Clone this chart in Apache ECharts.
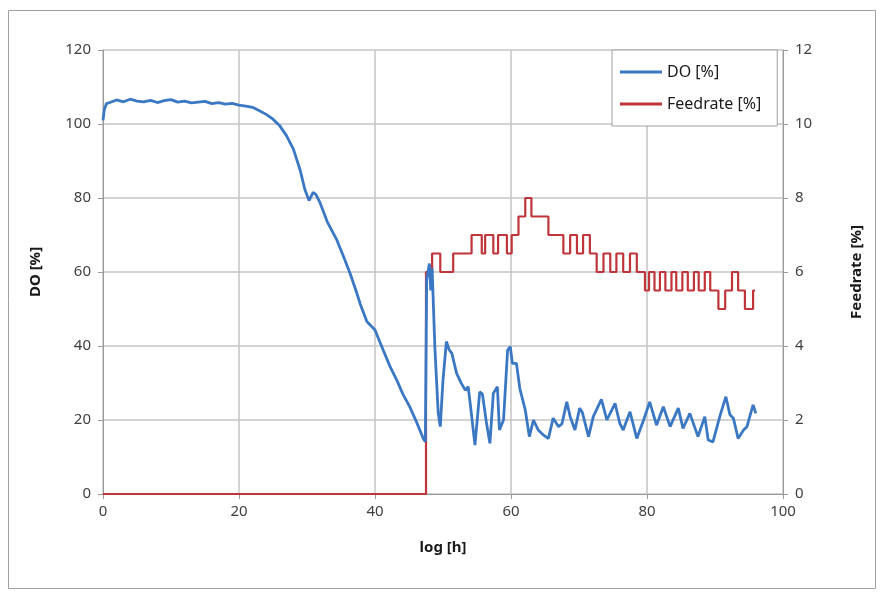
<!DOCTYPE html>
<html>
<head>
<meta charset="utf-8">
<script src="https://cdn.jsdelivr.net/npm/echarts@6/dist/echarts.min.js"></script>
<style>
  html, body { margin: 0; padding: 0; background: #fff; }
  #chart { width: 882px; height: 595px; }
</style>
</head>
<body>
<div id="chart"></div>
<script>
// DO [%] (time in h)
var doTime = [0.0, 0.2, 0.5, 1, 2, 3, 4, 5, 6, 7, 8, 9, 10, 11, 12, 13, 14, 15, 16, 17, 18, 19, 20,
  21, 22, 23, 24, 25, 26, 27, 28, 29, 29.7, 30.3, 30.9, 31.3, 31.9, 33, 34.4, 35.3, 36.3, 37.2, 37.8,
  38.8, 40.0, 41.2, 42.2, 43.2, 44.1, 45.1, 46.1, 47.1, 47.4, 47.6, 48.0, 48.2, 48.4, 48.8, 49.3, 49.6,
  50.0, 50.5, 50.9, 51.3, 52.0, 52.7, 53.3, 53.7, 54.0, 54.7, 55.4, 55.8, 56.4, 56.9, 57.4, 58.0, 58.3,
  58.9, 59.5, 59.9, 60.2, 60.8, 61.3, 62.1, 62.7, 63.3, 64.0, 64.8, 65.5, 66.2, 67.0, 67.5, 68.2, 68.7,
  69.4, 70.1, 70.5, 71.4, 72.1, 73.3, 74.1, 75.3, 76.0, 76.5, 77.5, 78.5, 79.5, 80.4, 81.4, 82.4, 83.4,
  84.6, 85.3, 86.3, 87.5, 88.5, 89.0, 89.7, 90.7, 91.6, 92.2, 92.7, 93.4, 94.2, 94.7, 95.6, 96.0];
var doValue = [101, 104, 105.5, 105.8, 106.5, 106, 106.7, 106.2, 106, 106.4, 105.8, 106.3, 106.6, 105.9,
  106.2, 105.7, 105.9, 106.1, 105.5, 105.8, 105.4, 105.6, 105.1,
  104.8, 104.5, 103.6, 102.6, 101.3, 99.5, 96.8, 93.2, 87.5, 82.2, 79.3, 81.5, 81.0, 78.8, 73.5, 68.6,
  64.5, 59.8, 55, 51.5,
  46.6, 44.3, 38.9, 34.5, 30.8, 27, 23.6, 19.5, 15, 14.1, 58, 62.3, 55, 61, 39.8, 21.8, 18.2,
  30.8, 41.2, 39, 38, 32.6, 29.9, 28, 29, 24.5, 13.2, 27.6, 27, 19.1, 13.7, 27.2, 29, 17.3,
  20, 38.9, 39.8, 35.3, 35.3, 28.5, 22.7, 15.5, 20, 17.3, 15.9, 15, 20.5, 18.2, 19, 24.9, 20.9,
  17.3, 23.2, 22, 15.5, 20.9, 25.6, 20, 24.5, 19.1, 17.3, 22.2, 15, 20, 24.9, 18.6, 23.6, 18.2,
  23.2, 17.7, 21.8, 15.5, 20.9, 14.6, 14.1, 20.9, 26.3, 21.4, 20.5, 15, 17.3, 18.2, 24.1, 21.8];

// Feedrate [%] step changes: value holds from this time until the next one
var feedTime = [0, 47.5, 48.4, 49.6, 51.5, 54.2, 55.7, 56.2, 57.4, 58.1, 59.4, 60.1, 61.1, 62.1, 63.0,
  65.5, 67.7, 68.7, 69.7, 70.6, 71.6, 72.6, 73.6, 74.6, 75.5, 76.5, 77.5, 78.5, 79.7,
  80.3, 81.1, 81.9, 82.7, 83.6, 84.3, 85.2, 86.0, 86.9, 87.6, 88.5, 89.3, 90.5, 91.5, 92.5, 93.4,
  94.4, 95.6, 95.9];
var feedValue = [0, 6, 6.5, 6, 6.5, 7, 6.5, 7, 6.5, 7, 6.5, 7, 7.5, 8, 7.5,
  7, 6.5, 7, 6.5, 7, 6.5, 6, 6.5, 6, 6.5, 6, 6.5, 6, 5.5,
  6, 5.5, 6, 5.5, 6, 5.5, 6, 5.5, 6, 5.5, 6, 5.5, 5, 5.5, 6, 5.5,
  5, 5.5, 5.5];

var doData = doTime.map(function (t, i) { return [t, doValue[i]]; });
var feedData = feedTime.map(function (t, i) { return [t, feedValue[i]]; });

var font = 'Noto Sans';
var gridCol = '#c4c4c4';
var axisCol = '#9a9a9a';
var labelStyle = { color: '#404040', fontSize: 15, fontFamily: font };
var nameStyle = { color: '#1a1a1a', fontSize: 15, fontWeight: 'bold', fontFamily: font };

var chart = echarts.init(document.getElementById('chart'));
chart.setOption({
  animation: false,
  backgroundColor: '#fff',
  graphic: [{
    type: 'rect',
    shape: { x: 8.5, y: 10.5, width: 867, height: 578 },
    style: { fill: 'none', stroke: '#a0a0a0', lineWidth: 1 },
    silent: true
  }],
  grid: { left: 103, right: 99, top: 50, bottom: 101 },
  legend: {
    orient: 'vertical',
    left: 612, top: 50,
    width: 173,
    padding: [14, 16, 14, 8],
    itemGap: 16,
    itemWidth: 42, itemHeight: 3,
    icon: 'rect',
    backgroundColor: '#fff',
    borderColor: '#a0a0a0', borderWidth: 1,
    textStyle: { color: '#1a1a1a', fontSize: 16, fontFamily: font },
    data: ['DO [%]', 'Feedrate [%]']
  },
  xAxis: {
    type: 'value',
    min: 0, max: 100, interval: 20,
    name: 'log [h]', nameLocation: 'middle', nameGap: 46,
    nameTextStyle: nameStyle,
    axisLine: { show: true, lineStyle: { color: axisCol } },
    axisTick: { show: true, length: 5, lineStyle: { color: axisCol } },
    axisLabel: Object.assign({ margin: 10 }, labelStyle),
    splitLine: { show: true, lineStyle: { color: gridCol, width: 1.5 } }
  },
  yAxis: [{
    type: 'value',
    min: 0, max: 120, interval: 20,
    name: 'DO [%]', nameLocation: 'middle', nameGap: 60,
    nameTextStyle: nameStyle,
    axisLine: { show: true, lineStyle: { color: axisCol } },
    axisTick: { show: true, length: 5, lineStyle: { color: axisCol } },
    axisLabel: Object.assign({ margin: 12 }, labelStyle),
    splitLine: { show: true, lineStyle: { color: gridCol, width: 1.5 } }
  }, {
    type: 'value',
    min: 0, max: 12, interval: 2,
    position: 'right',
    name: 'Feedrate [%]', nameLocation: 'middle', nameGap: 66,
    nameTextStyle: nameStyle,
    axisLine: { show: true, lineStyle: { color: axisCol } },
    axisTick: { show: true, length: 5, lineStyle: { color: axisCol } },
    axisLabel: Object.assign({ margin: 12 }, labelStyle),
    splitLine: { show: false }
  }],
  series: [{
    name: 'DO [%]',
    type: 'line',
    yAxisIndex: 0,
    data: doData,
    showSymbol: false,
    z: 3,
    lineStyle: { color: '#3b78c3', width: 2.8 },
    itemStyle: { color: '#3b78c3' }
  }, {
    name: 'Feedrate [%]',
    type: 'line',
    yAxisIndex: 1,
    step: 'end',
    data: feedData,
    showSymbol: false,
    z: 2,
    lineStyle: { color: '#c0353a', width: 2.2 },
    itemStyle: { color: '#c0353a' }
  }]
});
</script>
</body>
</html>
